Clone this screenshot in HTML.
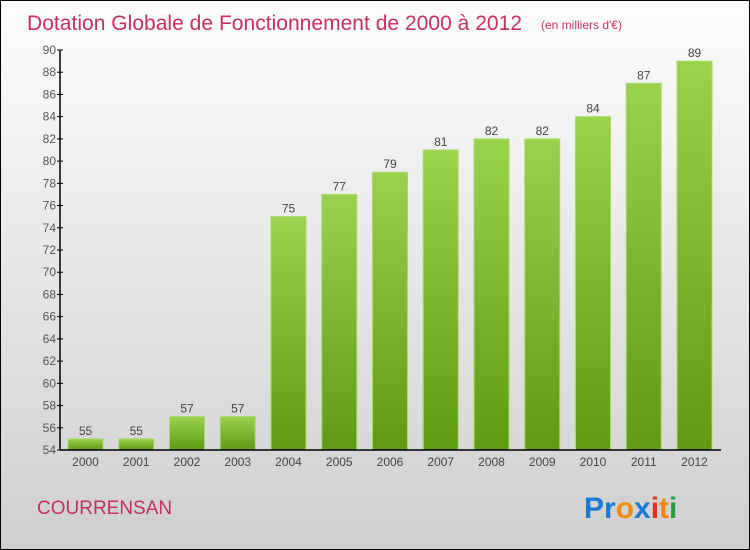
<!DOCTYPE html>
<html><head><meta charset="utf-8"><style>
html,body{margin:0;padding:0}
body{width:750px;height:550px;overflow:hidden;font-family:"Liberation Sans",sans-serif}
#wrap{position:relative;width:748px;height:548px;border:1px solid #000;background:linear-gradient(#fdfdfd,#cfcfcf)}
svg{position:absolute;left:0;top:0}
</style></head><body>
<div id="wrap">
<svg id="chart" width="748" height="548">
<defs><linearGradient id="g" x1="0" y1="0" x2="0" y2="1"><stop offset="0" stop-color="#9ad24e"/><stop offset="1" stop-color="#5e9a12"/></linearGradient></defs>
<text x="26" y="29" font-size="21" fill="#c8305f" textLength="495">Dotation Globale de Fonctionnement de 2000 à 2012</text>
<text x="540" y="28" font-size="12" fill="#c8305f">(en milliers d'€)</text>
<text x="36" y="513" font-size="19" fill="#c8305f">COURRENSAN</text>
<g font-size="30" font-weight="bold" font-family="'Liberation Sans',sans-serif">
<text x="583" y="517"><tspan fill="#1a7ad4">Pr</tspan><tspan fill="#f08a10">o</tspan><tspan fill="#1a7ad4">x</tspan><tspan fill="#e03020">i</tspan><tspan fill="#f08a10">t</tspan><tspan fill="#20a040">i</tspan></text>
</g>
<g id="plot"></g>
</svg>
</div>
<script>
const categories=["2000","2001","2002","2003","2004","2005","2006","2007","2008","2009","2010","2011","2012"];
const values=[55,55,57,57,75,77,79,81,82,82,84,87,89];
const yTicks=[54,56,58,60,62,64,66,68,70,72,74,76,78,80,82,84,86,88,90];
const yMin=54,yMax=90,plotTop=49,plotBottom=449,plotLeft=59,plotRight=720;
const y=v=>plotBottom-(v-yMin)/(yMax-yMin)*(plotBottom-plotTop);
const x=i=>84.5+i*50.75;
const ns="http://www.w3.org/2000/svg",g=document.getElementById('plot');
function el(t,a){const e=document.createElementNS(ns,t);for(const k in a)e.setAttribute(k,a[k]);g.appendChild(e);return e;}
values.forEach((v,i)=>{
 const b=el('rect',{x:x(i)-17.5,y:y(v),width:35,height:plotBottom-y(v),fill:'url(#g)',stroke:'#a8dc68','stroke-width':1});
 
 
 const t=el('text',{x:x(i),y:y(v)-4,'text-anchor':'middle','font-size':12,fill:'#444'});t.textContent=v;
 
 
 const c=el('text',{x:x(i),y:plotBottom+16,'text-anchor':'middle','font-size':12,fill:'#444'});c.textContent=categories[i];
 
 
});
yTicks.forEach(v=>{
 el('line',{x1:plotLeft-3,x2:plotLeft+3,y1:y(v),y2:y(v),stroke:'#000'});
 const t=el('text',{x:plotLeft-4,y:y(v)+4,'text-anchor':'end','font-size':12,fill:'#555'});t.textContent=v;
 
 
});
const ya=el('line',{x1:plotLeft,x2:plotLeft,y1:plotTop,y2:plotBottom,stroke:'#000','stroke-width':1.5});


const xa=el('line',{x1:plotLeft,x2:plotRight,y1:plotBottom,y2:plotBottom,stroke:'#000','stroke-width':1.5});


</script>
</body></html>
